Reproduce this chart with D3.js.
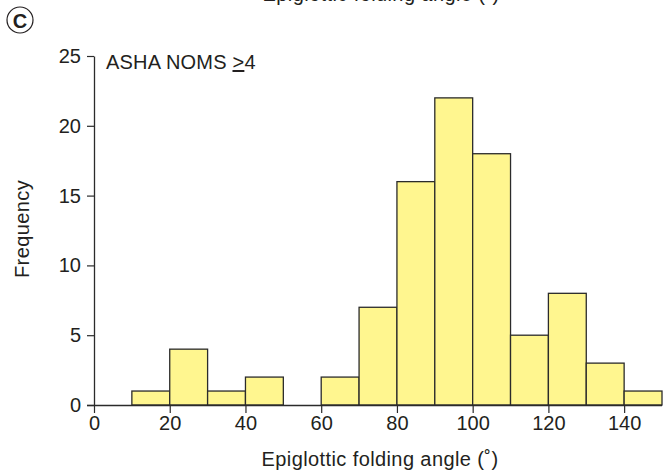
<!DOCTYPE html>
<html>
<head>
<meta charset="utf-8">
<script src="https://cdn.jsdelivr.net/npm/d3@7"></script>
<style>
body { margin: 0; background: #fff; }
text { font-family: "Liberation Sans", Arial, sans-serif; fill: #231f20; }
</style>
</head>
<body>
<div id="chart"></div>
<script>
'use strict'

// bin edges (degrees) and counts
var binStarts = [10, 20, 30, 40, 50, 60, 70, 80, 90, 100, 110, 120, 130, 140]
var counts = [1, 4, 1, 2, 0, 2, 7, 16, 22, 18, 5, 8, 3, 1]
var binWidth = 10
var xTicks = [0, 20, 40, 60, 80, 100, 120, 140]
var yTicks = [0, 5, 10, 15, 20, 25]

var bins = binStarts.map(function(s, i){
	return {x0: s, x1: s + binWidth, n: counts[i]}
})

var W = 665, H = 473
var margins = {top: 56, bottom: 68, left: 94, right: 3}
var width = W - margins.left - margins.right
var height = H - margins.top - margins.bottom
var fs = "20px"

var svg = d3.select("#chart").append("svg")
	.attr("width", W)
	.attr("height", H)

var g = svg.append("g").attr("transform", "translate(" + margins.left + "," + margins.top + ")")

var x = d3.scaleLinear().domain([0, 150]).range([0, width])
var y = d3.scaleLinear().domain([0, 25]).range([height, 0])

g.selectAll(".bar")
	.data(bins.filter(function(d){ return d.n > 0 }))
	.enter().append("rect")
	.attr("class", "bar")
	.attr("x", function(d){ return x(d.x0) })
	.attr("width", function(d){ return x(d.x1) - x(d.x0) })
	.attr("y", function(d){ return y(d.n) })
	.attr("height", function(d){ return height - y(d.n) })
	.style("fill", "#fff68f")
	.style("stroke", "#2b2b2b")
	.style("stroke-width", 1.3)

var xa = g.append("g")
	.attr("transform", "translate(0," + height + ")")
	.call(d3.axisBottom(x).tickValues(xTicks).tickSize(8).tickPadding(3).tickSizeOuter(0))
var ya = g.append("g")
	.call(d3.axisLeft(y).tickValues(yTicks).tickSize(7).tickPadding(6).tickSizeOuter(0))

;[xa, ya].forEach(function(a){
	a.select(".domain").attr("stroke", "#2b2b2b").attr("stroke-width", 1.3)
	a.selectAll(".tick line").attr("stroke", "#2b2b2b").attr("stroke-width", 1.2)
	a.selectAll(".tick text").style("font-size", fs).style("font-family", "'Liberation Sans', Arial, sans-serif").attr("fill", "#231f20")
})
// extend x-axis line to the left to meet y tick
xa.select(".domain").attr("d", "M-7,0.5H" + width)

// axis titles
svg.append("text")
	.attr("x", 380)
	.attr("y", 466)
	.attr("text-anchor", "middle")
	.style("font-size", fs)
	.style("letter-spacing", "0.4px")
	.text("Epiglottic folding angle (\u02DA)")

svg.append("text")
	.attr("transform", "translate(29,229) rotate(-90)")
	.attr("text-anchor", "middle")
	.style("font-size", fs)
	.style("letter-spacing", "0.4px")
	.text("Frequency")

// cut-off title at the top
svg.append("text")
	.attr("x", 381)
	.attr("y", 1)
	.attr("text-anchor", "middle")
	.style("font-size", fs)
	.style("letter-spacing", "0.4px")
	.text("Epiglottic folding angle (\u02DA)")

// panel label
svg.append("circle")
	.attr("cx", 20).attr("cy", 20).attr("r", 13)
	.attr("fill", "none").attr("stroke", "#231f20").attr("stroke-width", 1.2)
svg.append("text")
	.attr("x", 20).attr("y", 27.5)
	.attr("text-anchor", "middle")
	.style("font-size", "20px")
	.style("font-weight", "bold")
	.text("C")

// group label
var lab = svg.append("text")
	.attr("x", 106).attr("y", 69)
	.style("font-size", fs)
	.style("letter-spacing", "0.2px")
lab.append("tspan").text("ASHA NOMS ")
lab.append("tspan").text(">").attr("text-decoration", "underline")
lab.append("tspan").text("4")
</script>
</body>
</html>
